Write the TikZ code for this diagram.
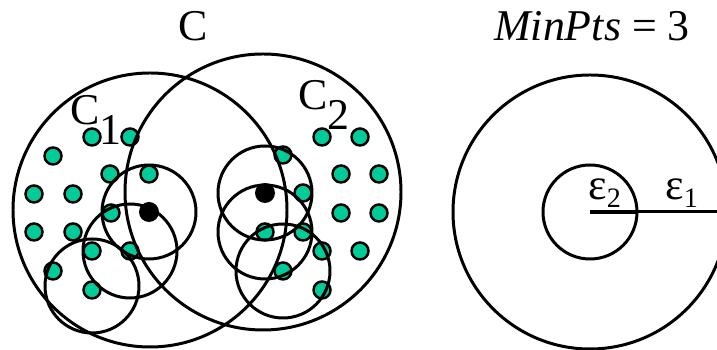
\documentclass[tikz,border=0pt]{standalone}
\usepackage{fontspec}
\setmainfont{Liberation Serif}
\definecolor{dotgreen}{RGB}{0,204,153}

\begin{document}
\begin{tikzpicture}[x=0.02cm,y=-0.02cm,
        ring/.style={line width=1.7pt},
        pt/.style={circle,draw,line width=1.4pt,fill=dotgreen,inner sep=0pt,minimum size=0.34cm},
        core/.style={circle,fill=black,inner sep=0pt,minimum size=0.4cm},
        lbl/.style={font=\fontsize{25}{29}\selectfont,inner sep=0pt,anchor=base west}]
                \useasboundingbox (0,0) rectangle (717,350);
                \foreach \x/\y [count=\i] in {92/137,130/137,53/156,110/174,149/174,34/194,73/194,111/213,
                        34/232,73/232,92/251,130/251,53/271,92/290}
                        \node[pt] (l\i) at (\x,\y) {};
                \foreach \x/\y [count=\i] in {322/137,360/137,283/155,341/174,379/174,303/193,341/213,379/213,
                        265/232,303/232,322/251,360/251,283/271,322/290}
                        \node[pt] (r\i) at (\x,\y) {};
                \node[core] (p) at (149,212) {};
                \node[core] (q) at (265,193) {};
                \coordinate (b) at (92,286);
                \coordinate (c1) at (150,210);
                \coordinate (c2) at (263,192);
                \draw[ring] (c1) circle[radius=137];
                \draw[ring] (c2) circle[radius=138];
                \draw[ring] (p) circle[radius=47];
                \draw[ring] (l12) circle[radius=47];
                \draw[ring] (b) circle[radius=47];
                \draw[ring] (q) circle[radius=47];
                \draw[ring] (r9) circle[radius=47];
                \draw[ring] (r13) circle[radius=47];
                \node[lbl,anchor=base] (c) at (193,41) {C};
                \node[lbl] (n1) at (70,125) {C\raisebox{-11pt}{1}};
                \node[lbl] (n2) at (298,110) {C\raisebox{-11pt}{2}};
                \node[lbl,anchor=base] (mp) at (592,41) {\itshape MinPts\upshape{} = 3};
                \coordinate (o) at (590,212);
                \coordinate (e2) at (637,212);
                \coordinate (e1) at (730,212);
                \draw[ring] (o) circle[radius=47];
                \draw[ring] (o) circle[radius=137];
                \draw[line width=2.6pt] (o) -- (e2);
                \draw[ring] (e2) -- (e1);
                \node[lbl] (eps2) at (588,200) {ε\raisebox{-4pt}{\fontsize{16}{18}\selectfont 2}};
                \node[lbl] (eps1) at (665,200) {ε\raisebox{-4pt}{\fontsize{16}{18}\selectfont 1}};
            \end{tikzpicture}
\end{document}
